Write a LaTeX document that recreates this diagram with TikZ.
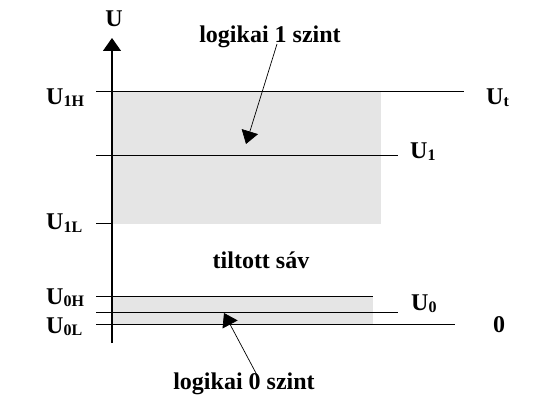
\documentclass[tikz,border=0pt]{standalone}
\usepackage{fontspec}
\setmainfont{Liberation Serif}
\usetikzlibrary{arrows.meta}
\definecolor{bandgray}{RGB}{229,229,229}
\newcommand\lsub[1]{\raisebox{-2pt}{\fontsize{16}{16}\selectfont #1}}
\begin{document}
\begin{tikzpicture}[x=1pt,y=-1pt,
  txt/.style={font=\fontsize{24}{24}\selectfont\bfseries, inner sep=0pt},
  lbl/.style={txt, anchor=base west},
  ctr/.style={txt, anchor=base},
  level/.style={line width=1pt, draw=black},
  band/.style={fill=bandgray, draw=none},
  axisline/.style={line width=1.2pt, -{Triangle[length=13pt,width=18pt]}},
  pointer/.style={line width=0.7pt, -{Triangle[length=13pt,width=17pt]}}
]
\useasboundingbox (0,0) rectangle (533,406);
% bands
\fill[band] (112,92) rectangle (381,224);
\fill[band] (112,296) rectangle (373,324.5);
% coordinates
\coordinate (h1a) at (96,92);    \coordinate (h1b) at (464,92);
\coordinate (m1a) at (96,156);   \coordinate (m1b) at (398,156);
\coordinate (l1a) at (96,224);   \coordinate (l1b) at (112,224);
\coordinate (h0a) at (96,296);   \coordinate (h0b) at (373,296);
\coordinate (m0a) at (96,312);   \coordinate (m0b) at (398,312);
\coordinate (l0a) at (96,324.5); \coordinate (l0b) at (455,324.5);
\coordinate (axb) at (112,343);  \coordinate (axt) at (112,38);
\coordinate (p1s) at (277,44);   \coordinate (p1e) at (246,144);
\coordinate (p0s) at (257,375);  \coordinate (p0e) at (224,313);
% lines
\draw[level] (h1a) -- (h1b);
\draw[level] (m1a) -- (m1b);
\draw[level] (l1a) -- (l1b);
\draw[level] (h0a) -- (h0b);
\draw[level] (m0a) -- (m0b);
\draw[level] (l0a) -- (l0b);
\draw[axisline] (axb) -- (axt);
% labels
\node[ctr] (uax) at (114,27) {U};
\node[lbl] (u1h) at (46,105) {U\lsub{1H}};
\node[lbl] (u1l) at (46,230) {U\lsub{1L}};
\node[lbl] (u0h) at (46,304) {U\lsub{0H}};
\node[lbl] (u0l) at (46,333) {U\lsub{0L}};
\node[lbl] (ut) at (486,105) {U\lsub{t}};
\node[lbl] (u1) at (410,159) {U\lsub{1}};
\node[lbl] (u0) at (411,310) {U\lsub{0}};
\node[lbl] (zero) at (493,332) {0};
\node[ctr] (txt1) at (270,43) {logikai 1 szint};
\node[ctr] (tilt) at (261,269) {tiltott sáv};
\node[ctr] (txt0) at (244,389) {logikai 0 szint};
% pointers
\draw[pointer] (p1s) -- (p1e);
\draw[pointer] (p0s) -- (p0e);
\end{tikzpicture}
\end{document}
